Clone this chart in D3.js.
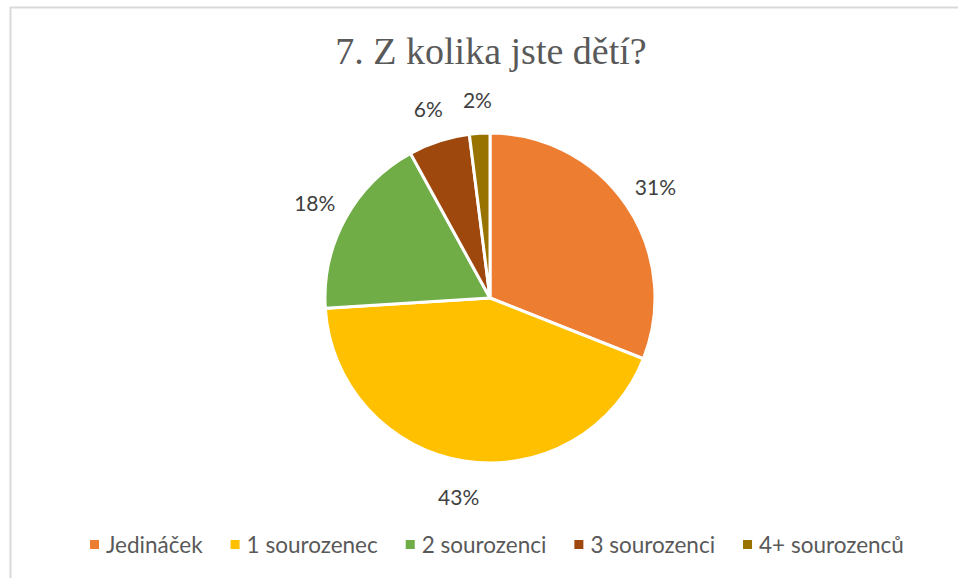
<!DOCTYPE html>
<html>
<head>
<meta charset="utf-8">
<script src="https://cdn.jsdelivr.net/npm/d3@7"></script>
<style>
  body { margin: 0; background: #fff; }
</style>
</head>
<body>
<div id="chart"></div>
<script>
// data
var categories = ["Jedináček", "1 sourozenec", "2 sourozenci", "3 sourozenci", "4+ sourozenců"]
var values = [31, 43, 18, 6, 2]
var colors = ["#ED7D31", "#FFC000", "#70AD47", "#9E480E", "#997300"]
var title = "7. Z kolika jste dětí?"

var width = 958, height = 578

var svg = d3.select("#chart")
  .append("svg")
    .attr("width", width)
    .attr("height", height)

// chart frame (cropped at right / bottom)
svg.append("rect")
  .attr("x", 10.5)
  .attr("y", 7.5)
  .attr("width", width + 20)
  .attr("height", height + 20)
  .attr("fill", "none")
  .attr("stroke", "#d9d9d9")
  .attr("stroke-width", 2)

svg.append("text")
  .attr("x", 491)
  .attr("y", 64)
  .attr("text-anchor", "middle")
  .attr("font-family", "'Liberation Serif', 'Times New Roman', serif")
  .attr("font-size", 38)
  .attr("fill", "#595959")
  .text(title)

var cx = 490, cy = 298, radius = 165

var pie = d3.pie().sort(null).value(function(d) { return d })
var arcs = pie(values)

var arc = d3.arc().innerRadius(0).outerRadius(radius)
var labelArc = d3.arc().innerRadius(200).outerRadius(200)

var g = svg.append("g")
  .attr("transform", "translate(" + cx + "," + cy + ")")

g.selectAll("path")
  .data(arcs)
  .enter().append("path")
    .attr("d", arc)
    .attr("fill", function(d, i) { return colors[i] })
    .attr("stroke", "#fff")
    .attr("stroke-width", 3)

g.selectAll("text")
  .data(arcs)
  .enter().append("text")
    .attr("transform", function(d) { return "translate(" + labelArc.centroid(d) + ")" })
    .attr("text-anchor", "middle")
    .attr("dy", "0.45em")
    .attr("font-family", "Lato, 'Open Sans', sans-serif")
    .attr("font-size", 21)
    .attr("fill", "#404040")
    .text(function(d) { return d.data + "%" })

// legend
var legend = svg.append("g")
var lx = 90, ly = 545
categories.forEach(function(c, i) {
  legend.append("rect")
    .attr("x", lx)
    .attr("y", ly - 5)
    .attr("width", 9)
    .attr("height", 9)
    .attr("fill", colors[i])
  var t = legend.append("text")
    .attr("x", lx + 16)
    .attr("y", ly)
    .attr("dy", "0.35em")
    .attr("font-family", "Lato, 'Open Sans', sans-serif")
    .attr("font-size", 22.5)
    .attr("fill", "#595959")
    .text(c)
  lx += 16 + t.node().getComputedTextLength() + 28
})
</script>
</body>
</html>
